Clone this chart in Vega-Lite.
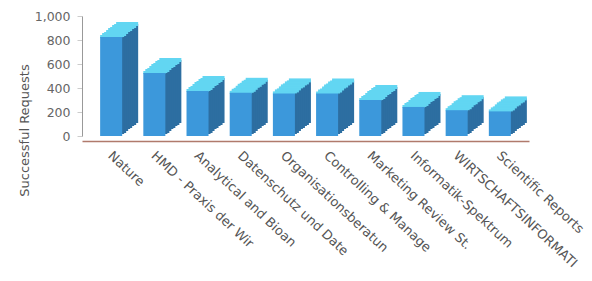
{
  "$schema": "https://vega.github.io/schema/vega-lite/v6.json",
  "autosize": {"type": "none"},
  "padding": {"left": 82, "top": 16, "right": 63, "bottom": 145},
  "width": 447,
  "height": 120,
  "background": "white",
  "config": {"view": {"stroke": null}, "font": "DejaVu Sans"},
  "data": {"values": [
    {"journal": "Nature", "requests": 825},
    {"journal": "HMD - Praxis der Wir", "requests": 525},
    {"journal": "Analytical and Bioan", "requests": 375},
    {"journal": "Datenschutz und Date", "requests": 360},
    {"journal": "Organisationsberatun", "requests": 355},
    {"journal": "Controlling & Manage", "requests": 355},
    {"journal": "Marketing Review St.", "requests": 300},
    {"journal": "Informatik-Spektrum", "requests": 242},
    {"journal": "WIRTSCHAFTSINFORMATI", "requests": 215},
    {"journal": "Scientific Reports", "requests": 205}
  ]},
  "encoding": {
    "x": {"field": "journal", "type": "nominal", "sort": null,
      "scale": {"paddingInner": 0.49, "paddingOuter": 0.42},
      "axis": {"title": null, "labelAngle": 43, "labelAlign": "left", "labelBaseline": "top", "labelFontSize": 13, "labelColor": "#555555", "labelPadding": 8, "labelOffset": 3, "ticks": false, "offset": 5, "domainColor": "#b07a6c", "domainWidth": 1.5, "labelLimit": 300, "labelOverlap": false}},
    "y": {"field": "requests", "type": "quantitative",
      "scale": {"domain": [0, 1000], "nice": false},
      "axis": {"title": "Successful Requests", "titleFontSize": 13, "titleFontWeight": "normal", "titleColor": "#555555", "titleX": -58, "titleY": 114, "titleBaseline": "middle", "values": [0, 200, 400, 600, 800, 1000], "format": ",.0f", "grid": false, "labelFontSize": 12.5, "labelColor": "#666666", "labelPadding": 7, "tickSize": 5, "tickColor": "#cccccc", "domainColor": "#999999"}}
  },
  "layer": [
    {"mark": {"type": "bar", "color": "#2d6ea1", "xOffset": 16, "yOffset": -13, "y2Offset": -13}},
    {"mark": {"type": "bar", "color": "#2d6ea1", "xOffset": 14, "yOffset": -11, "y2Offset": -11}},
    {"mark": {"type": "bar", "color": "#2d6ea1", "xOffset": 12, "yOffset": -10, "y2Offset": -10}},
    {"mark": {"type": "bar", "color": "#2d6ea1", "xOffset": 10, "yOffset": -8, "y2Offset": -8}},
    {"mark": {"type": "bar", "color": "#2d6ea1", "xOffset": 8, "yOffset": -7, "y2Offset": -7}},
    {"mark": {"type": "bar", "color": "#2d6ea1", "xOffset": 6, "yOffset": -5, "y2Offset": -5}},
    {"mark": {"type": "bar", "color": "#2d6ea1", "xOffset": 4, "yOffset": -3, "y2Offset": -3}},
    {"mark": {"type": "bar", "color": "#2d6ea1", "xOffset": 2, "yOffset": -2, "y2Offset": -2}},
    {"mark": {"type": "bar", "color": "#62d6f2", "xOffset": 16, "yOffset": -15, "y2Offset": -11}, "encoding": {"y2": {"field": "requests"}}},
    {"mark": {"type": "bar", "color": "#62d6f2", "xOffset": 14, "yOffset": -13, "y2Offset": -9}, "encoding": {"y2": {"field": "requests"}}},
    {"mark": {"type": "bar", "color": "#62d6f2", "xOffset": 12, "yOffset": -12, "y2Offset": -8}, "encoding": {"y2": {"field": "requests"}}},
    {"mark": {"type": "bar", "color": "#62d6f2", "xOffset": 10, "yOffset": -10, "y2Offset": -6}, "encoding": {"y2": {"field": "requests"}}},
    {"mark": {"type": "bar", "color": "#62d6f2", "xOffset": 8, "yOffset": -9, "y2Offset": -5}, "encoding": {"y2": {"field": "requests"}}},
    {"mark": {"type": "bar", "color": "#62d6f2", "xOffset": 6, "yOffset": -7, "y2Offset": -3}, "encoding": {"y2": {"field": "requests"}}},
    {"mark": {"type": "bar", "color": "#62d6f2", "xOffset": 4, "yOffset": -5, "y2Offset": -1}, "encoding": {"y2": {"field": "requests"}}},
    {"mark": {"type": "bar", "color": "#62d6f2", "xOffset": 2, "yOffset": -4, "y2Offset": 0}, "encoding": {"y2": {"field": "requests"}}},
    {"mark": {"type": "bar", "color": "#62d6f2", "xOffset": 0, "yOffset": -2, "y2Offset": 1}, "encoding": {"y2": {"field": "requests"}}},
    {"mark": {"type": "bar", "color": "#3c98db"}}
  ]
}
